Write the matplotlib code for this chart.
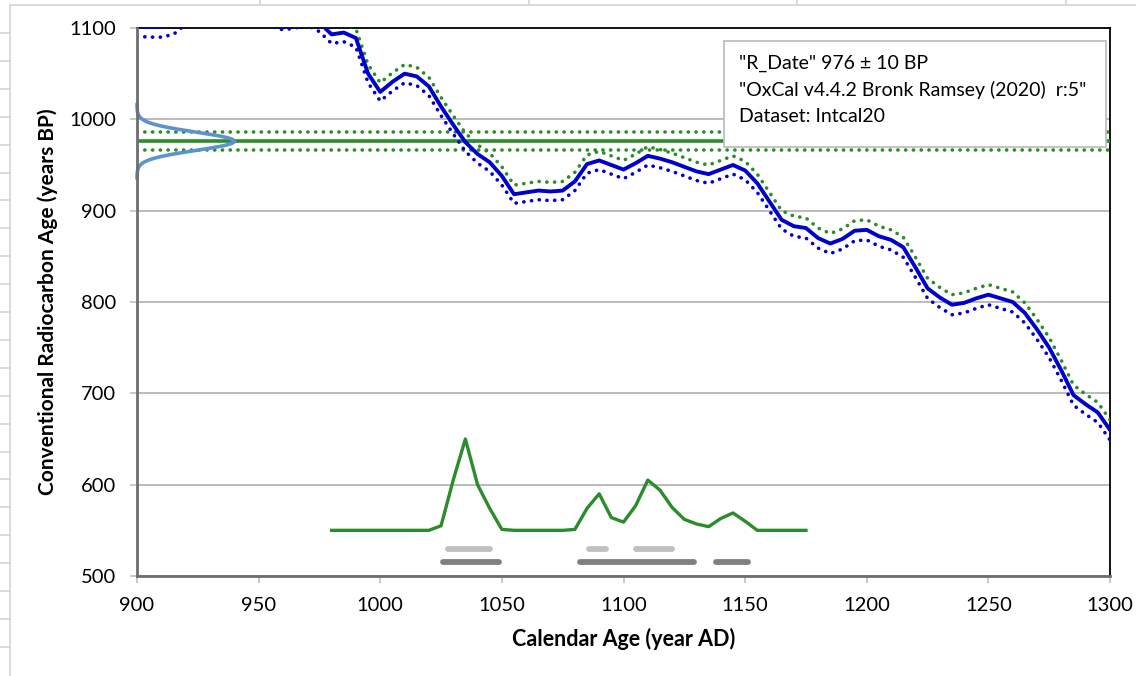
import numpy as np
import matplotlib
matplotlib.use("Agg")
import matplotlib.pyplot as plt
from matplotlib.lines import Line2D

plt.rcParams['font.family'] = ['Lato', 'DejaVu Sans']

# ---------------- data ----------------
cal_years = list(range(900, 1305, 5))
curve_bp = [1102, 1101, 1101, 1104, 1115, 1125, 1130, 1130, 1125, 1120,
            1115, 1112, 1108, 1110, 1113, 1106, 1093, 1095, 1089, 1050,
            1030, 1041, 1050, 1047, 1036, 1014, 994, 975, 962, 953,
            938, 918, 920, 922, 921, 922, 932, 951, 955, 950,
            945, 952, 960, 957, 953, 948, 943, 940, 945, 950,
            944, 930, 910, 890, 883, 881, 870, 864, 869, 878,
            879, 872, 868, 860, 838, 815, 805, 797, 799, 804,
            808, 804, 800, 788, 770, 750, 725, 698, 688, 679,
            660]
curve_sigma = [11, 11, 11, 11, 11, 11, 11, 11, 11, 11,
               10, 10, 10, 10, 10, 10, 10, 10, 10, 10,
               10, 10, 10, 10, 10, 10, 10, 10, 10, 10,
               10, 10, 10, 10, 10, 10, 10, 10, 10, 10,
               10, 10, 10, 10, 10, 10, 10, 10, 10, 10,
               10, 10, 10, 10, 11, 11, 11, 11, 11, 11,
               11, 11, 11, 11, 11, 11, 11, 11, 11, 11,
               11, 11, 11, 11, 11, 11, 11, 11, 11, 11,
               11]

r_date = 976
r_error = 10
gauss_peak_years = 40  # width of the plotted BP distribution (calendar years)

prob_years = list(range(980, 1180, 5))
prob_values = [550, 550, 550, 550, 550, 550, 550, 550, 550, 555,
               605, 650, 600, 574, 551, 550, 550, 550, 550, 550,
               551, 574, 590, 564, 559, 577, 605, 594, 575, 562,
               557, 554, 563, 569, 560, 550, 550, 550, 550, 550]

range68 = [(1028, 1045), (1086, 1093), (1105, 1120)]
range95 = [(1026, 1049), (1082, 1129), (1138, 1151)]
range68_level = 530
range95_level = 515

x_ticks = [900, 950, 1000, 1050, 1100, 1150, 1200, 1250, 1300]
y_ticks = [500, 600, 700, 800, 900, 1000, 1100]

info_lines = ['"R_Date" 976 \u00b1 10 BP',
              '"OxCal v4.4.2 Bronk Ramsey (2020)  r:5"',
              'Dataset: Intcal20']

# ---------------- figure ----------------
W, H = 1136, 676
fig = plt.figure(figsize=(W / 100, H / 100), dpi=100)
fig.patch.set_facecolor('white')

# spreadsheet cell grid around the chart object
cell = '#D4D4D4'
def pline(x0, y0, x1, y1):
    fig.add_artist(Line2D([x0 / W, x1 / W], [1 - y0 / H, 1 - y1 / H],
                          color=cell, lw=1.2, transform=fig.transFigure))
pline(10, 5, 10, H)
pline(10, 5, W, 5)
for k in range(23):
    y = 33 + 27.9 * k
    pline(0, y, 10, y)
for x in [260, 529, 797, 1066]:
    pline(x, 0, x, 5)

ax = fig.add_axes([137 / W, 1 - 576 / H, 973 / W, 548 / H])
xmin, xmax = x_ticks[0], x_ticks[-1]
ax.set_xlim(xmin, xmax)
ax.set_ylim(y_ticks[0], y_ticks[-1])

dot = dict(linestyle=(0, (0.05, 2.1)), dash_capstyle='round', lw=2.6)
green = '#2A8C2A'
blue = '#0000CC'

curve = np.array(curve_bp, dtype=float)
sig = np.array(curve_sigma, dtype=float)

# horizontal lines for the date
ax.plot([xmin, xmax], [r_date, r_date], color=green, lw=2.6, zorder=3)
ax.plot([xmin, xmax], [r_date + r_error] * 2, color=green, zorder=3, **dot)
ax.plot([xmin, xmax], [r_date - r_error] * 2, color=green, zorder=3, **dot)

# calibration curve
ax.plot(cal_years, curve + sig, color=green, zorder=4, **dot)
ax.plot(cal_years, curve - sig, color=blue, zorder=4, **dot)
ax.plot(cal_years, curve, color=blue, lw=2.8, zorder=5)

# BP distribution on the y-axis
bp = np.linspace(r_date - 4 * r_error, r_date + 4 * r_error, 200)
dens = np.exp(-0.5 * ((bp - r_date) / r_error) ** 2)
ax.plot(xmin + gauss_peak_years * dens, bp, color='#5B93CC', lw=2.6, zorder=6,
        clip_on=False)

# calendar probability
ax.plot(prob_years, prob_values, color=green, lw=2.4, zorder=5)
for a, b in range68:
    ax.plot([a, b], [range68_level, range68_level], color='#C0C0C0', lw=4.2,
            solid_capstyle='round', zorder=5)
for a, b in range95:
    ax.plot([a, b], [range95_level, range95_level], color='#808080', lw=4.2,
            solid_capstyle='round', zorder=5)

# axes styling
ax.set_xticks(x_ticks)
ax.set_yticks(y_ticks)
ax.grid(axis='y', color='#B5B5B5', lw=1.3, zorder=1)
ax.set_axisbelow(True)
for s in ['left', 'bottom']:
    ax.spines[s].set_color('#6E6E6E')
    ax.spines[s].set_linewidth(2.0)
for s in ['top', 'right']:
    ax.spines[s].set_color('black')
    ax.spines[s].set_linewidth(1.3)
ax.spines['left'].set_zorder(7)
ax.tick_params(axis='both', direction='out', length=5, width=1.2,
               color='#BFBFBF', labelsize=14.5, pad=10, labelcolor='black')

ax.set_xlabel('Calendar Age (year AD)', fontsize=15.5, fontweight='bold',
              labelpad=10)
ax.set_ylabel('Conventional Radiocarbon Age (years BP)', fontsize=15,
              fontweight='bold', labelpad=8)

# info box
bx0, by0, bx1, by1 = 724, 41, 1106, 147
fig.patches.append(plt.Rectangle((bx0 / W, 1 - by1 / H), (bx1 - bx0) / W,
                                 (by1 - by0) / H, transform=fig.transFigure,
                                 facecolor='white', edgecolor='#BFBFBF',
                                 lw=1.3, zorder=10))
for i, t in enumerate(info_lines):
    fig.text(739 / W, 1 - (63 + 26.5 * i) / H, t, fontsize=14,
             va='center', ha='left', zorder=11)

fig.savefig('out.png', dpi=100)
